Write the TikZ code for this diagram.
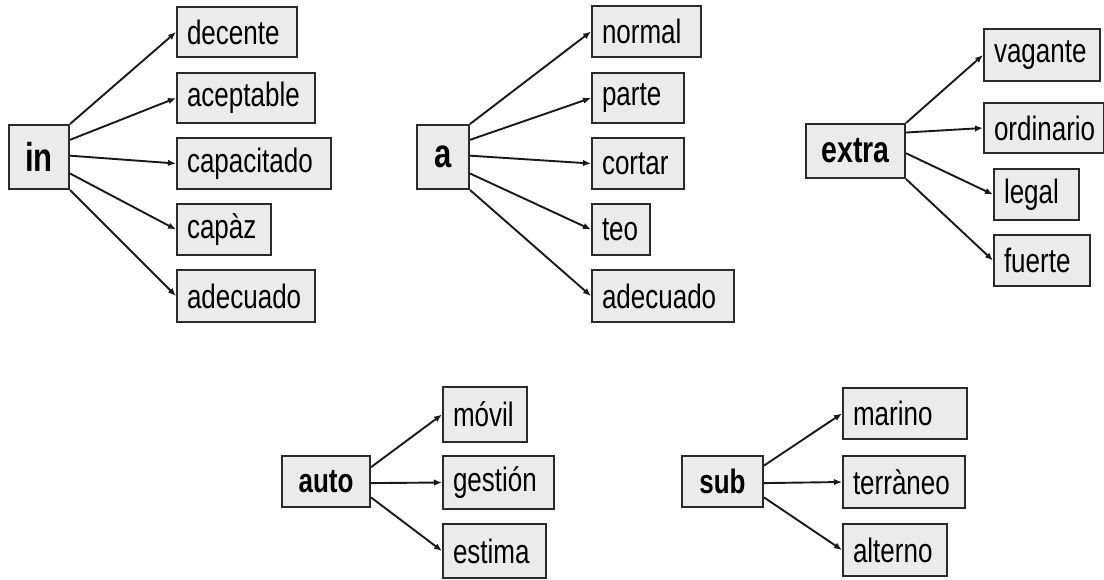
\documentclass[tikz,border=0pt]{standalone}
\usepackage{fontspec}
\usepackage{graphicx}
\setmainfont{Liberation Sans}
\usetikzlibrary{calc,arrows.meta}
\definecolor{boxfill}{HTML}{EBEBEB}
\definecolor{boxline}{HTML}{2A2A2A}
\newcommand{\tall}[1]{\scalebox{1}[1.3]{#1}}
\tikzset{
  leaf/.style={draw=boxline, fill=boxfill, line width=2pt, minimum height=51pt,
    inner xsep=10pt, inner ysep=0pt, align=left, anchor=north west,
    font=\fontsize{26pt}{28pt}\selectfont},
  root/.style={draw=boxline, fill=boxfill, line width=2pt, inner sep=0pt,
    font=\bfseries},
  arr/.style={line width=1.9pt, black!90, -{Latex[length=8pt,width=6.5pt]}}
}
\begin{document}
\begin{tikzpicture}[x=1pt,y=-1pt]
\useasboundingbox (0,0) rectangle (1104,579);
% roots
\node[root, minimum width=60pt, minimum height=64pt, font=\bfseries\fontsize{31pt}{34pt}\selectfont] (in) at (39,157) {\tall{in}};
\node[root, minimum width=52pt, minimum height=64pt, font=\bfseries\fontsize{31pt}{34pt}\selectfont] (a) at (443,157) {\tall{a}};
\node[root, minimum width=99pt, minimum height=54pt, font=\bfseries\fontsize{28.5pt}{31pt}\selectfont] (extra) at (855.5,151) {\tall{extra}};
\node[root, minimum width=88pt, minimum height=51pt, font=\bfseries\fontsize{26pt}{29pt}\selectfont] (auto) at (326,481.5) {\tall{auto}};
\node[root, minimum width=81pt, minimum height=51pt, font=\bfseries\fontsize{26pt}{29pt}\selectfont] (sub) at (722.5,481.5) {\tall{sub}};
% in group
\node[leaf, text width=100pt, minimum height=50pt] (decente) at (176,6) {\tall{decente}};
\node[leaf, text width=118pt, minimum height=50pt] (aceptable) at (176,72) {\tall{aceptable}};
\node[leaf, text width=134pt, minimum height=51pt] (capacitado) at (176,137) {\tall{capacitado}};
\node[leaf, text width=74pt, minimum height=51pt] (capaz) at (176,203) {\tall{capàz}};
\node[leaf, text width=118pt, minimum height=52pt] (adecuado1) at (176,269) {\tall{adecuado}};
% a group
\node[leaf, text width=89pt, minimum height=51pt] (normal) at (591,5) {\tall{normal}};
\node[leaf, text width=72pt, minimum height=50pt] (parte) at (591,72) {\tall{parte}};
\node[leaf, text width=72pt, minimum height=51pt] (cortar) at (591,137) {\tall{cortar}};
\node[leaf, text width=38pt, minimum height=51pt] (teo) at (591,203) {\tall{teo}};
\node[leaf, text width=122pt, minimum height=52pt] (adecuado2) at (591,269) {\tall{adecuado}};
% extra group
\node[leaf, text width=96pt, minimum height=52pt] (vagante) at (983,28) {\tall{vagante}};
\node[leaf, text width=100pt, minimum height=50pt] (ordinario) at (983,102) {\tall{ordinario}};
\node[leaf, text width=65pt, minimum height=51pt] (legal) at (993,168) {\tall{legal}};
\node[leaf, text width=76pt, minimum height=51pt] (fuerte) at (993,234) {\tall{fuerte}};
% auto group
\node[leaf, text width=64pt, minimum height=55pt] (movil) at (442,386) {\tall{móvil}};
\node[leaf, text width=91pt, minimum height=53pt] (gestion) at (442,455) {\tall{gestión}};
\node[leaf, text width=83pt, minimum height=54pt] (estima) at (442,523) {\tall{estima}};
% sub group
\node[leaf, text width=104pt, minimum height=51pt] (marino) at (842,387) {\tall{marino}};
\node[leaf, text width=102pt, minimum height=52pt] (terraneo) at (842,455) {\tall{terràneo}};
\node[leaf, text width=84pt, minimum height=52pt] (alterno) at (842,523) {\tall{alterno}};
% arrows
\draw[arr] (in.north east) -- (decente.west);
\draw[arr] ($(in.north east)!0.24!(in.south east)$) -- (aceptable.west);
\draw[arr] ($(in.north east)!0.48!(in.south east)$) -- (capacitado.west);
\draw[arr] ($(in.north east)!0.75!(in.south east)$) -- (capaz.west);
\draw[arr] (in.south east) -- (adecuado1.west);
\draw[arr] (a.north east) -- (normal.west);
\draw[arr] ($(a.north east)!0.24!(a.south east)$) -- (parte.west);
\draw[arr] ($(a.north east)!0.48!(a.south east)$) -- (cortar.west);
\draw[arr] ($(a.north east)!0.75!(a.south east)$) -- (teo.west);
\draw[arr] (a.south east) -- (adecuado2.west);
\draw[arr] (extra.north east) -- (vagante.west);
\draw[arr] ($(extra.north east)!0.17!(extra.south east)$) -- (ordinario.west);
\draw[arr] ($(extra.north east)!0.54!(extra.south east)$) -- (legal.west);
\draw[arr] (extra.south east) -- (fuerte.west);
\draw[arr] ($(auto.north east)!0.23!(auto.south east)$) -- (movil.west);
\draw[arr] ($(auto.north east)!0.53!(auto.south east)$) -- (gestion.west);
\draw[arr] ($(auto.north east)!0.8!(auto.south east)$) -- (estima.west);
\draw[arr] ($(sub.north east)!0.2!(sub.south east)$) -- (marino.west);
\draw[arr] ($(sub.north east)!0.53!(sub.south east)$) -- (terraneo.west);
\draw[arr] ($(sub.north east)!0.8!(sub.south east)$) -- (alterno.west);
\end{tikzpicture}
\end{document}
